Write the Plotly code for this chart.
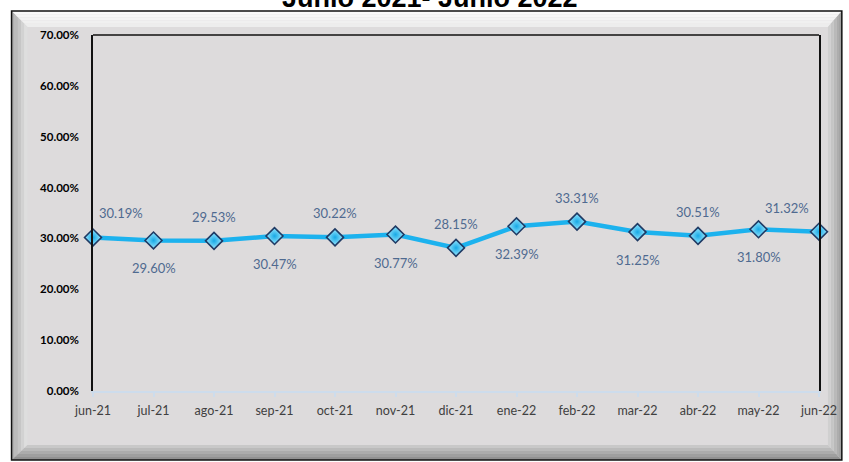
import plotly.graph_objects as go

# ---------------- data ----------------
months = ["jun-21", "jul-21", "ago-21", "sep-21", "oct-21", "nov-21", "dic-21",
          "ene-22", "feb-22", "mar-22", "abr-22", "may-22", "jun-22"]
values = [0.3019, 0.2960, 0.2953, 0.3047, 0.3022, 0.3077, 0.2815,
          0.3239, 0.3331, 0.3125, 0.3051, 0.3180, 0.3132]
y_ticks = [0.0, 0.1, 0.2, 0.3, 0.4, 0.5, 0.6, 0.7]
title_text = "Junio 2021- Junio 2022"

# ---------------- geometry helpers (screen pixels) ----------------
W, H = 849, 462
L, R, T, B = 93, 824, 35, 391


def px(x):
    return (x - L) / (R - L)


def py(y):
    return (B - y) / (B - T)


def mix(c1, c2, t):
    a = [int(c1[i:i + 2], 16) for i in (1, 3, 5)]
    b = [int(c2[i:i + 2], 16) for i in (1, 3, 5)]
    return "#" + "".join(f"{round(a[k] + (b[k] - a[k]) * t):02x}" for k in range(3))


FACE = "#dddbdc"

fig = go.Figure()
fig.add_trace(go.Scatter(
    x=months, y=values, mode="lines+markers",
    line=dict(color="#1cb2ee", width=4.5),
    marker=dict(symbol="diamond", size=13, color="#9be8ff",
                gradient=dict(type="radial", color="#17a9e6"),
                line=dict(color="#1f3a64", width=1.6)),
    cliponaxis=False, hoverinfo="skip", showlegend=False,
))

annotations = []
n = len(months)
for i, (m, v) in enumerate(zip(months, values)):
    above = (i % 2 == 0)
    xanchor = "center"
    xshift = 0
    if i == 0:
        xanchor, xshift = "left", 4
    elif i == n - 1:
        xanchor, xshift = "right", -8
    annotations.append(dict(
        x=m, y=v, xref="x", yref="y", text=f"{v * 100:.2f}%", showarrow=False,
        xanchor=xanchor, yanchor="middle", xshift=xshift,
        yshift=24 if above else -28,
        font=dict(family="Lato", size=13, color="#4f6a90"),
    ))

annotations.append(dict(
    x=px(432), y=py(-2), xref="paper", yref="paper", text=title_text,
    showarrow=False, xanchor="center", yanchor="middle",
    font=dict(family="Liberation Sans", size=27, color="#000000", weight="bold"),
))

# ---------------- frame with bevel ----------------
shapes = []
ox0, oy0, ox1, oy1 = 11, 11, 847, 460
ix0, iy0, ix1, iy1 = 27, 27, 833, 445
shapes.append(dict(type="rect", xref="paper", yref="paper", layer="below",
                   x0=px(ox0), y0=py(oy0), x1=px(ox1), y1=py(oy1),
                   fillcolor=FACE, line=dict(width=0)))

bands = 5


def quad(pts, color):
    d = "M " + " L ".join(f"{px(a)},{py(b)}" for a, b in pts) + " Z"
    return dict(type="path", xref="paper", yref="paper", layer="below", path=d,
                fillcolor=color, line=dict(width=0))


def lerp(o, i_, t):
    return o + (i_ - o) * t


for k in range(bands):
    t0 = k / bands
    t1 = (k + 1) / bands
    ax0, ay0, ax1, ay1 = lerp(ox0, ix0, t0), lerp(oy0, iy0, t0), lerp(ox1, ix1, t0), lerp(oy1, iy1, t0)
    bx0, by0, bx1, by1 = lerp(ox0, ix0, t1), lerp(oy0, iy0, t1), lerp(ox1, ix1, t1), lerp(oy1, iy1, t1)
    tm = (t0 + t1) / 2
    shapes.append(quad([(ax0, ay0), (ax1, ay0), (bx1, by0), (bx0, by0)], mix("#fbfbfb", "#ebebeb", tm)))
    shapes.append(quad([(ax0, ay0), (bx0, by0), (bx0, by1), (ax0, ay1)], mix("#a9a9a9", "#e4e4e4", tm)))
    shapes.append(quad([(ax1, ay0), (ax1, ay1), (bx1, by1), (bx1, by0)], mix("#9c9c9c", "#d6d6d6", tm)))
    shapes.append(quad([(ax0, ay1), (ax1, ay1), (bx1, by1), (bx0, by1)], mix("#8a8a8a", "#cfcfcf", tm)))

shapes.append(dict(type="rect", xref="paper", yref="paper", layer="below",
                   x0=px(ox0), y0=py(oy0), x1=px(ox1), y1=py(oy1),
                   fillcolor="rgba(0,0,0,0)", line=dict(color="#111111", width=1.5)))
shapes.append(dict(type="line", xref="paper", yref="paper", layer="above",
                   x0=0, x1=1, y0=1, y1=1, line=dict(color="#111111", width=1.5)))

fig.update_layout(
    width=W, height=H,
    margin=dict(l=L, r=W - R, t=T, b=H - B, pad=0),
    paper_bgcolor="#ffffff", plot_bgcolor=FACE,
    shapes=shapes, annotations=annotations,
    showlegend=False,
    xaxis=dict(
        type="category", range=[0, n - 1], showgrid=False, zeroline=False,
        showline=True, linecolor="#cddcec", linewidth=2,
        ticks="outside", ticklen=4, tickcolor="#cddcec", tickwidth=2,
        tickfont=dict(family="Lato", size=12.5, color="#404040"),
        ticklabelstandoff=3,
    ),
    yaxis=dict(
        range=[0, 0.7], tickvals=y_ticks, tickformat=".2%",
        showgrid=False, zeroline=False,
        showline=True, mirror=True, linecolor="#111111", linewidth=1.5,
        ticks="", ticklabelstandoff=10,
        tickfont=dict(family="Lato", size=11.5, color="#000000", weight="bold"),
    ),
)

fig.write_html("out.html", config={"displayModeBar": False},
               post_script="document.body.style.margin='0';")
